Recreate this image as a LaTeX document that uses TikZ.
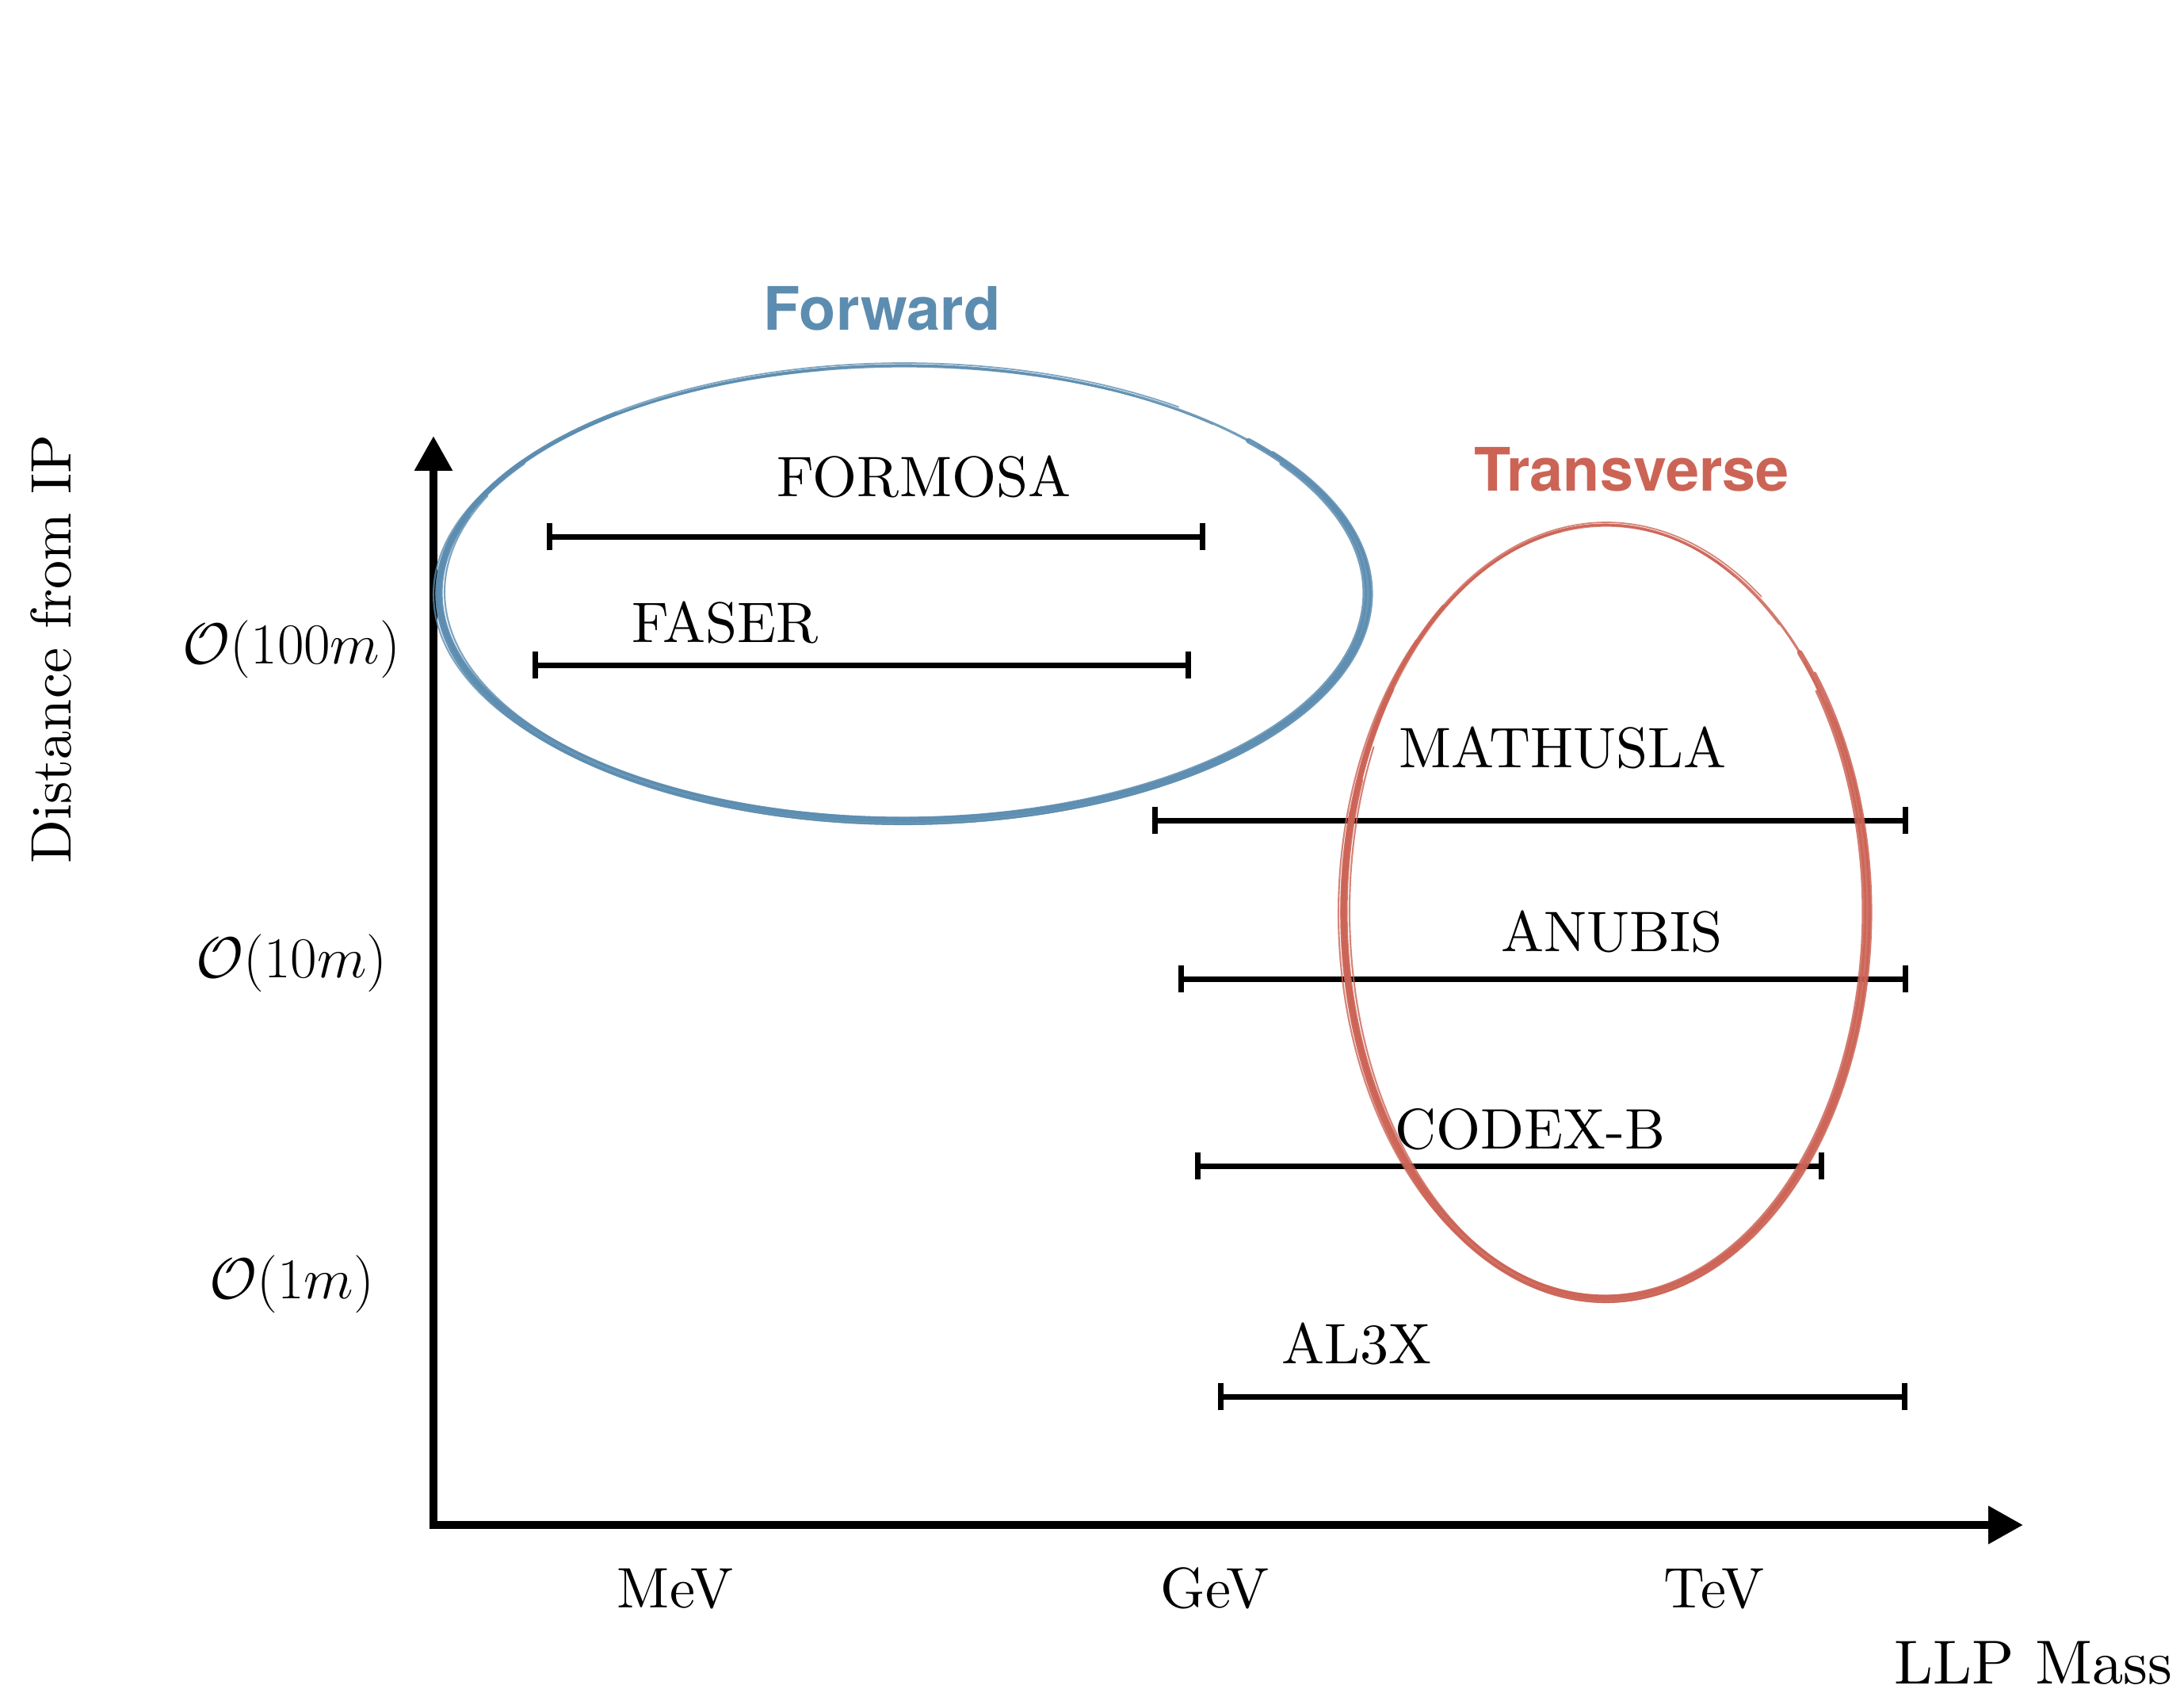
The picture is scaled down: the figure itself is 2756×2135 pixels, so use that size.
\documentclass[tikz,border=0pt]{standalone}
\usepackage{fontspec}
\setmainfont{lmroman10-regular}[Extension=.otf]
\newfontfamily\heros{TeX Gyre Heros}
\usetikzlibrary{arrows.meta}
\definecolor{fwdblue}{RGB}{92,141,176}
\definecolor{trred}{RGB}{204,100,86}
\tikzset{
  axis/.style={line width=2.85pt, line join=miter,
    {Triangle[width=13pt,length=12.5pt]}-{Triangle[width=13pt,length=12.5pt]}},
  errbar/.style={line width=2pt, {Bar[width=9.8pt]}-{Bar[width=9.8pt]}},
  lbl/.style={font=\fontsize{20.5}{24}\selectfont, anchor=base, inner sep=0pt},
  mlbl/.style={font=\fontsize{21.4}{25}\selectfont, anchor=base, inner sep=0pt},
  region/.style={font=\heros\bfseries\fontsize{21.5}{26}\selectfont, anchor=base, inner sep=0pt},
}
\newcommand\sketchellipse[5]{%
  \foreach \a/\b/\dx/\dy/\dr/\ds/\w/\op in {
      -215/42/0/0/0/0/1.9/0.9,
      -232/38/1/1/4/3/0.9/0.85,
      -200/35/-1/0/-4/-3/0.9/0.85,
      -260/30/1/-1/2/-2/0.7/0.85,
      -190/25/0/1/-2/4/0.6/0.8,
      -225/33/-2/2/5/-1/0.6/0.8,
      -205/40/2/-1/-5/1/0.6/0.8,
      -195/20/0/1/4/4/0.45/0.75,
      -318/-150/0/0/0/0/0.9/0.85,
      -306/-170/1/0/3/3/0.5/0.8,
      -300/-185/-1/1/-2/1/0.5/0.8,
      -312/-200/0/-1/-3/-2/0.4/0.8,
      -296/-210/1/1/4/-1/0.35/0.75}{
    \draw[#1, line width=\w pt, opacity=\op, line cap=round]
      plot[domain=\a:\b, samples=160, smooth]
      ({#2+\dx+(#4+\dr)*cos(\x)}, {#3+\dy-(#5+\ds)*sin(\x)});
  }%
}
\begin{document}
\begin{tikzpicture}[x=0.01cm, y=-0.01cm]
\path[use as bounding box] (0,0) rectangle (2756,2135);

% axes
\coordinate (ytip) at (547,550);
\coordinate (xtip) at (2553,1924);
\draw[axis] (ytip) |- (xtip);

% axis labels
\node[lbl, rotate=90] (ylab) at (89,819) {Distance from IP};
\node[mlbl] (d100) at (368,837) {$\mathcal{O}(100m)$};
\node[mlbl] (d10) at (368,1233) {$\mathcal{O}(10m)$};
\node[mlbl] (d1) at (368,1638) {$\mathcal{O}(1m)$};
\node[lbl] (mev) at (852,2028) {MeV};
\node[lbl] (gev) at (1533,2028) {GeV};
\node[lbl] (tev) at (2163,2028) {TeV};
\node[lbl, font=\fontsize{22.3}{26}\selectfont] (xlab) at (2566,2124) {LLP Mass};

% error bars
\coordinate (formosaL) at (690,677);  \coordinate (formosaR) at (1521,677);
\coordinate (faserL) at (672,839);    \coordinate (faserR) at (1503,839);
\coordinate (mathL) at (1454,1035);   \coordinate (mathR) at (2408,1035);
\coordinate (anuL) at (1487,1235);    \coordinate (anuR) at (2408,1235);
\coordinate (codexL) at (1508,1471);  \coordinate (codexR) at (2302,1471);
\coordinate (alL) at (1537,1762);     \coordinate (alR) at (2407,1762);
\draw[errbar] (formosaL) -- (formosaR);
\draw[errbar] (faserL) -- (faserR);
\draw[errbar] (mathL) -- (mathR);
\draw[errbar] (anuL) -- (anuR);
\draw[errbar] (codexL) -- (codexR);
\draw[errbar] (alL) -- (alR);

\node[lbl] (formosa) at (1166,626) {FORMOSA};
\node[lbl] (faser) at (915,810) {FASER};
\node[lbl] (mathusla) at (1972,968) {MATHUSLA};
\node[lbl] (anubis) at (2034,1200) {ANUBIS};
\node[lbl] (codexb) at (1931,1449) {CODEX-B};
\node[lbl] (al3x) at (1712,1720) {AL3X};

% region ellipses
\sketchellipse{fwdblue}{1140}{748}{586}{287}
\sketchellipse{trred}{2026}{1150}{330}{488}

\node[region, text=fwdblue] (forward) at (1113,416) {Forward};
\node[region, text=trred] (transverse) at (2059,619) {Transverse};
\end{tikzpicture}
\end{document}
